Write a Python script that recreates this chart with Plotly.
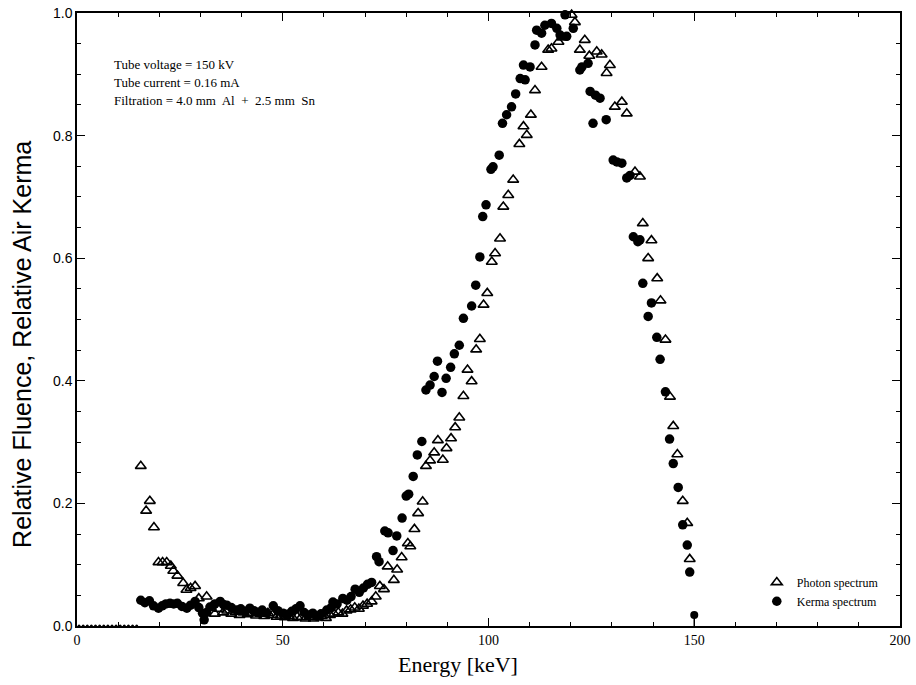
import plotly.graph_objects as go

# ---------------- data ----------------
kerma_energy = [15.5, 16.5, 17.6, 18.6, 19.8, 20.7, 21.6, 22.6, 23.5, 24.4, 25.5, 26.7, 27.6, 28.7, 29.6,
                30.5, 30.9, 31.5, 32.3, 33.5, 34.8, 35.6, 36.4, 37.5, 38.8, 39.8, 40.9, 42.0, 43.0, 44.0,
                45.0, 46.1, 47.7, 48.8, 50.1, 51.2, 52.2, 53.2, 54.2, 55.2, 56.2, 57.3, 58.3, 59.3, 60.7,
                61.8, 62.2, 63.2, 64.6, 65.6, 66.6, 67.6, 68.6, 69.6, 70.6, 71.6, 72.8, 73.4, 74.8, 75.6,
                76.8, 77.7, 79.0, 80.0, 80.6, 81.7, 82.7, 83.8, 84.8, 85.8, 86.8, 87.6, 88.7, 89.7, 90.8,
                91.7, 92.9, 93.9, 95.9, 96.9, 97.9, 98.6, 99.4, 100.6, 101.1, 102.6, 103.4, 104.4, 105.6,
                106.6, 107.7, 108.5, 108.9, 110.1, 111.3, 111.7, 112.9, 113.7, 115.3, 116.6, 117.4, 118.6,
                119.0, 120.6, 122.2, 122.7, 124.2, 124.7, 125.4, 126.0, 127.1, 128.6, 130.3, 131.2, 132.4,
                133.6, 134.4, 135.2, 136.3, 136.8, 137.5, 138.8, 139.6, 140.9, 141.7, 143.0, 144.0, 144.9,
                146.1, 147.2, 148.3, 148.9]
kerma_value = [0.042, 0.038, 0.041, 0.033, 0.029, 0.033, 0.036, 0.037, 0.036, 0.037, 0.032, 0.029, 0.034,
               0.040, 0.030, 0.021, 0.010, 0.022, 0.031, 0.036, 0.040, 0.035, 0.034, 0.030, 0.026, 0.028,
               0.024, 0.029, 0.025, 0.022, 0.026, 0.021, 0.033, 0.025, 0.021, 0.019, 0.024, 0.028, 0.033,
               0.022, 0.018, 0.021, 0.016, 0.020, 0.026, 0.030, 0.039, 0.036, 0.045, 0.042, 0.048, 0.060,
               0.055, 0.062, 0.068, 0.071, 0.113, 0.105, 0.155, 0.152, 0.123, 0.147, 0.176, 0.212, 0.215,
               0.244, 0.279, 0.301, 0.385, 0.393, 0.407, 0.432, 0.381, 0.404, 0.422, 0.444, 0.458, 0.502,
               0.522, 0.556, 0.602, 0.668, 0.687, 0.745, 0.749, 0.768, 0.820, 0.834, 0.847, 0.868, 0.893,
               0.915, 0.891, 0.912, 0.948, 0.972, 0.967, 0.980, 0.983, 0.975, 0.964, 0.997, 0.962, 0.975,
               0.907, 0.912, 0.918, 0.872, 0.820, 0.866, 0.861, 0.826, 0.760, 0.757, 0.755, 0.731, 0.735,
               0.635, 0.627, 0.630, 0.559, 0.505, 0.527, 0.471, 0.435, 0.382, 0.305, 0.265, 0.226, 0.165,
               0.132, 0.088]

photon_energy = [15.5, 16.8, 17.7, 18.7, 19.8, 20.8, 21.8, 22.8, 23.4, 24.4, 25.8, 26.6, 27.6, 28.7, 29.6,
                 31.5, 32.5, 33.5, 34.5, 35.5, 36.5, 37.5, 38.5, 39.5, 40.5, 41.5, 42.5, 43.5, 44.5, 45.5,
                 46.4, 47.5, 48.5, 49.5, 50.5, 51.5, 52.5, 53.5, 54.5, 55.5, 56.5, 57.5, 58.5, 59.5, 60.5,
                 61.5, 62.5, 63.5, 64.5, 65.5, 66.5, 67.5, 68.5, 69.5, 70.5, 71.6, 72.6, 73.6, 74.6, 75.5,
                 77.0, 77.8, 78.9, 80.4, 81.0, 82.0, 82.9, 84.0, 84.8, 85.8, 86.8, 87.7, 88.9, 89.8, 90.9,
                 91.9, 92.9, 93.9, 94.9, 95.9, 97.0, 97.9, 98.8, 99.7, 100.8, 101.6, 102.8, 103.6, 104.8,
                 106.0, 107.5, 108.5, 109.3, 110.3, 111.3, 112.9, 114.5, 115.3, 117.0, 118.0, 120.2, 121.0,
                 122.2, 123.4, 124.5, 126.3, 127.5, 128.7, 129.5, 130.7, 132.4, 133.6, 135.6, 136.8, 137.5,
                 138.8, 139.6, 141.0, 141.8, 143.0, 144.1, 144.9, 145.9, 147.2, 148.3, 148.9]
photon_value = [0.261, 0.188, 0.204, 0.161, 0.104, 0.104, 0.104, 0.098, 0.090, 0.082, 0.070, 0.059, 0.062,
                0.065, 0.045, 0.048, 0.030, 0.020, 0.028, 0.022, 0.025, 0.020, 0.023, 0.018, 0.022, 0.019,
                0.021, 0.017, 0.020, 0.016, 0.021, 0.018, 0.015, 0.017, 0.014, 0.016, 0.013, 0.015, 0.014,
                0.012, 0.015, 0.012, 0.014, 0.016, 0.013, 0.018, 0.020, 0.022, 0.020, 0.025, 0.027, 0.030,
                0.028, 0.033, 0.036, 0.040, 0.048, 0.065, 0.060, 0.097, 0.075, 0.092, 0.112, 0.135, 0.130,
                0.158, 0.184, 0.203, 0.261, 0.270, 0.283, 0.303, 0.271, 0.290, 0.306, 0.324, 0.340, 0.375,
                0.418, 0.399, 0.451, 0.468, 0.524, 0.543, 0.594, 0.608, 0.632, 0.684, 0.703, 0.728, 0.786,
                0.815, 0.801, 0.834, 0.874, 0.912, 0.940, 0.942, 0.953, 0.960, 0.997, 0.985, 0.940, 0.956,
                0.930, 0.937, 0.932, 0.902, 0.915, 0.847, 0.855, 0.836, 0.741, 0.733, 0.657, 0.600, 0.629,
                0.567, 0.531, 0.467, 0.374, 0.326, 0.280, 0.204, 0.168, 0.109]

zero_energy = [0.5, 1.5, 2.5, 3.5, 4.5, 5.5, 6.5, 7.5, 8.5, 9.5, 10.5, 11.5, 12.5, 13.5, 14.5]
zero_value = [0.0, 0.0, 0.0, 0.0, 0.0, 0.0, 0.0, 0.0, 0.0, 0.0, 0.0, 0.0, 0.0, 0.0, 0.0]

endpoint_energy = [150.0]
endpoint_value = [0.018]

info_lines = ["Tube voltage = 150 kV", "Tube current = 0.16 mA", "Filtration = 4.0 mm  Al  +  2.5 mm  Sn"]
x_ticks = [0, 50, 100, 150, 200]
y_ticks = [0.0, 0.2, 0.4, 0.6, 0.8, 1.0]
y_tick_text = ["0.0", "0.2", "0.4", "0.6", "0.8", "1.0"]

SERIF = "Liberation Serif, Times New Roman, serif"
SANS = "Liberation Sans, Arial, sans-serif"

fig = go.Figure()

fig.add_trace(go.Scatter(
    x=zero_energy, y=zero_value, mode="markers", showlegend=False, cliponaxis=False,
    marker=dict(symbol="circle", size=3, color="black"), hoverinfo="skip"))

fig.add_trace(go.Scatter(
    x=kerma_energy, y=kerma_value, mode="markers", name="Kerma spectrum", cliponaxis=False,
    marker=dict(symbol="circle", size=9.5, color="black", line=dict(width=0))))

fig.add_trace(go.Scatter(
    x=photon_energy, y=photon_value, mode="markers", name="Photon spectrum", cliponaxis=False,
    marker=dict(symbol="triangle-up-open", size=9.5, color="black", line=dict(width=1.6, color="black"))))

fig.add_trace(go.Scatter(
    x=endpoint_energy, y=endpoint_value, mode="markers", showlegend=False, cliponaxis=False,
    marker=dict(symbol="circle", size=8, color="black"),
    error_y=dict(type="data", symmetric=False, array=[0], arrayminus=endpoint_value,
                 width=0, thickness=1.5, color="black")))

axis_common = dict(showline=True, linecolor="black", linewidth=1.5, mirror="ticks",
                   ticks="inside", tickcolor="black", showgrid=False, zeroline=False,
                   automargin=False)

fig.update_xaxes(range=[0, 200], tickvals=x_ticks, ticklen=8, tickwidth=1.3,
                 tickfont=dict(family=SERIF, size=14, color="black"),
                 minor=dict(dtick=10, ticklen=4, tickcolor="black", ticks="inside", showgrid=False),
                 **axis_common)
fig.update_yaxes(range=[0, 1.0], tickvals=y_ticks, ticktext=y_tick_text, ticklen=8, tickwidth=1.3,
                 tickfont=dict(family=SANS, size=14, color="black"),
                 minor=dict(dtick=0.05, ticklen=4, tickcolor="black", ticks="inside", showgrid=False),
                 **axis_common)

annotations = []
for i, line in enumerate(info_lines):
    annotations.append(dict(xref="paper", yref="paper", x=0.043, y=0.916 - i * 0.029,
                            xanchor="left", yanchor="middle", text=line, showarrow=False,
                            font=dict(family=SERIF, size=13, color="black")))
annotations.append(dict(xref="paper", yref="paper", x=0.463, y=-0.062, xanchor="center", yanchor="middle",
                        text="Energy [keV]", showarrow=False,
                        font=dict(family=SERIF, size=22, color="black")))
annotations.append(dict(xref="paper", yref="paper", x=-0.067, y=0.46, xanchor="center", yanchor="middle",
                        text="Relative Fluence, Relative Air Kerma", textangle=-90, showarrow=False,
                        font=dict(family=SANS, size=25, color="black")))

fig.update_layout(
    width=916, height=685,
    margin=dict(l=77, r=16, t=13, b=59),
    paper_bgcolor="white", plot_bgcolor="white",
    annotations=annotations,
    legend=dict(x=0.826, y=0.095, xanchor="left", yanchor="top", traceorder="reversed",
                bgcolor="rgba(0,0,0,0)", borderwidth=0, itemwidth=30,
                font=dict(family=SERIF, size=12, color="black")),
)

fig.write_html("out.html")
